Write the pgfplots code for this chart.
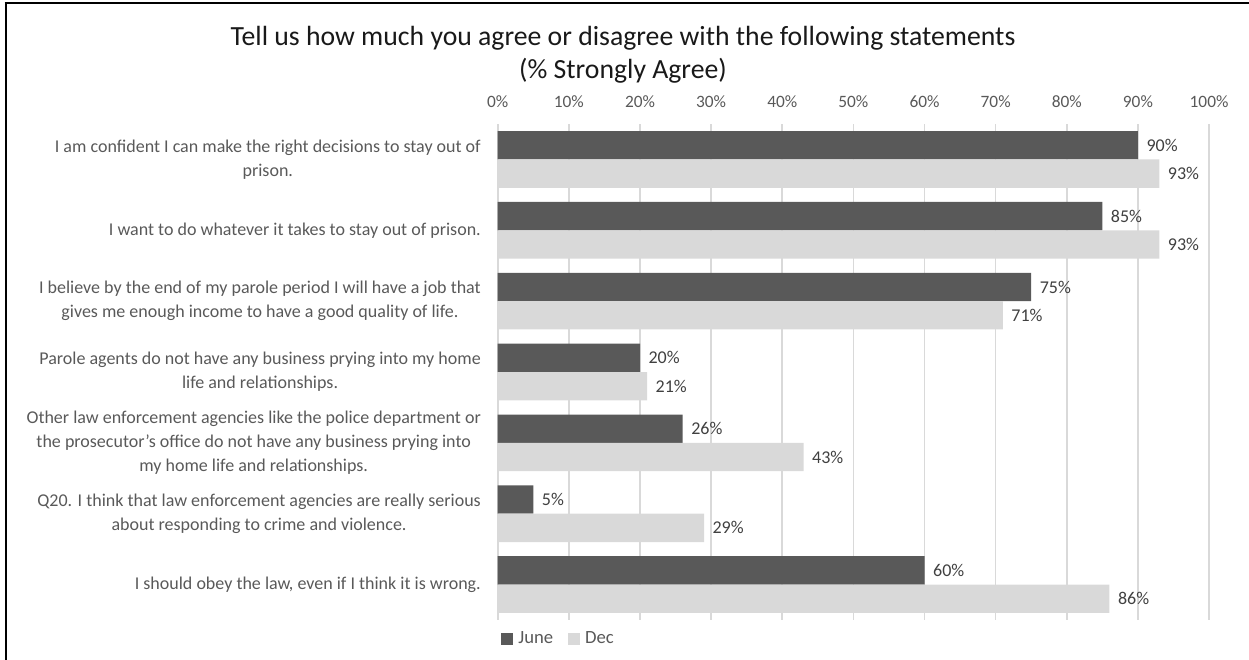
\documentclass[border=0pt]{standalone}
\usepackage{pgfplots}
\pgfplotsset{compat=1.18}
\usepackage{fontspec}
\setmainfont{Carlito}
\definecolor{june}{HTML}{595959}
\definecolor{dec}{HTML}{D9D9D9}
\definecolor{txt}{HTML}{595959}
\definecolor{lbl}{HTML}{404040}
\definecolor{gridc}{HTML}{D9D9D9}
\begin{document}
\begin{tikzpicture}
\useasboundingbox (0pt,0pt) rectangle (936.75pt,495pt);
\draw[line width=2pt] (4.5pt,0pt) -- (4.5pt,493.75pt);
\draw[line width=2pt] (3.5pt,492.75pt) -- (936.75pt,492.75pt);
\node[font=\fontsize{20.8}{24}\selectfont, text=black!90] at (467.25pt,466pt) {Tell us how much you agree or disagree with the following statements};
\node[font=\fontsize{20.8}{24}\selectfont, text=black!90] at (467.25pt,442pt) {(\% Strongly Agree)};
\begin{axis}[
  at={(373.3pt,30pt)}, anchor=south west,
  width=533.5pt, height=372pt, scale only axis,
  /pgf/number format/assume math mode=true,
  xmin=0, xmax=100, ymin=-0.5, ymax=6.5,
  y dir=reverse,
  xbar, bar width=0.4,
  xtick={0,10,...,100},
  xticklabel={\pgfmathprintnumber{\tick}\%},
  xticklabel pos=upper,
  xmajorgrids, major grid style={color=gridc, line width=1.2pt},
  axis line style={draw=none},
  major tick length=0pt,
  xticklabel style={font=\fontsize{13}{15}\selectfont, text=txt, anchor=south, yshift=8.5pt},
  ytick={0,1,2,3,4,5,6},
  yticklabels={
    {I am confident I can make the right decisions to stay out of\\prison.},
    {I want to do whatever it takes to stay out of prison.},
    {I believe by the end of my parole period I will have a job that\\gives me enough income to have a good quality of life.},
    {Parole agents do not have any business prying into my home\\life and relationships.},
    {Other law enforcement agencies like the police department or\\the prosecutor’s office do not have any business prying into\\my home life and relationships.},
    {Q20. I think that law enforcement agencies are really serious\\about responding to crime and violence.},
    {I should obey the law, even if I think it is wrong.}
  },
  yticklabel style={font=\fontsize{13.5}{18}\selectfont, text=txt, align=center, anchor=east, inner sep=0pt, xshift=-12.5pt},
  nodes near coords={\pgfmathprintnumber[fixed,precision=0]{\pgfplotspointmeta}\%},
  nodes near coords style={font=\fontsize{13.5}{15}\selectfont, text=lbl, anchor=west, inner sep=0pt, xshift=6.25pt},
  legend style={draw=none, legend columns=2, at={(0.0042,-0.0376)}, anchor=west, inner sep=0pt,
     font=\fontsize{14}{16}\selectfont, text=txt,
     nodes={inner sep=0pt, anchor=west},
     /tikz/every odd column/.append style={column sep=4pt},
     /tikz/every even column/.append style={column sep=11pt}},
  legend image code/.code={\fill[#1] (0pt,-4.5pt) rectangle (9pt,4.5pt);},
]
\addplot[fill=june, draw=none, bar shift=-0.2] coordinates {(90,0) (85,1) (75,2) (20,3) (26,4) (5,5) (60,6)};
\addplot[fill=dec, draw=none, bar shift=0.2] coordinates {(93,0) (93,1) (71,2) (21,3) (43,4) (29,5) (86,6)};
\legend{June, Dec}
\end{axis}
\end{tikzpicture}
\end{document}
